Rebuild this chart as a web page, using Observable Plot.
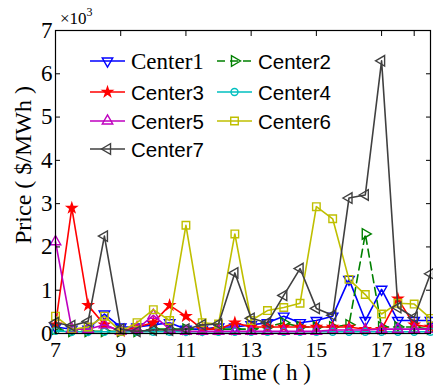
<!DOCTYPE html>
<html>
<head>
<meta charset="utf-8">
<script src="https://cdn.jsdelivr.net/npm/d3@7"></script>
<script src="https://cdn.jsdelivr.net/npm/@observablehq/plot@0.6"></script>
<style>
  html, body { margin: 0; padding: 0; background: #fff; }
  #chart { width: 433px; height: 389px; }
</style>
</head>
<body>
<div id="chart"></div>
<script>
// Time (h), half-hour steps
const times = [7, 7.5, 8, 8.5, 9, 9.5, 10, 10.5, 11, 11.5, 12, 12.5, 13, 13.5, 14, 14.5, 15, 15.5, 16, 16.5, 17, 17.5, 18, 18.5];

// Price ($/MWh) per center
const center1 = [150, 100, 100, 450, 150, 150, 200, 250, 100, 100, 150, 150, 200, 250, 400, 250, 300, 400, 1250, 300, 1020, 300, 300, 300];
const center2 = [100, 50, 50, 50, 50, 50, 100, 100, 100, 100, 100, 100, 100, 150, 250, 150, 150, 150, 200, 2300, 150, 150, 150, 100];
const center3 = [200, 2900, 650, 200, 50, 150, 250, 650, 400, 100, 100, 250, 150, 150, 150, 150, 150, 150, 150, 100, 100, 800, 200, 150];
const center4 = [60, 40, 40, 40, 40, 40, 40, 40, 40, 40, 40, 40, 40, 40, 40, 40, 40, 40, 40, 40, 40, 40, 40, 40];
const center5 = [2120, 100, 100, 200, 50, 100, 420, 100, 50, 50, 50, 50, 50, 50, 50, 50, 50, 80, 80, 80, 100, 100, 100, 100];
const center6 = [400, 100, 150, 400, 50, 250, 550, 300, 2500, 250, 220, 2300, 300, 530, 600, 700, 2930, 2650, 1250, 900, 450, 700, 680, 350];
const center7 = [250, 180, 280, 2250, 100, 50, 80, 80, 100, 200, 220, 1400, 350, 250, 880, 1500, 580, 420, 3130, 3200, 6300, 600, 370, 1380];

const seriesNames = ["Center1", "Center2", "Center3", "Center4", "Center5", "Center6", "Center7"];
const seriesValues = [center1, center2, center3, center4, center5, center6, center7];

const xTicks = [7, 9, 11, 13, 15, 17, 18];
const yTicks = [0, 1000, 2000, 3000, 4000, 5000, 6000, 7000];

// styles (not data)
const styles = {
  Center1: {color: "#0000ff", symbol: "triangle2", rotate: 180, fill: "none", dash: null, r: 5},
  Center2: {color: "#008000", symbol: "triangle2", rotate: 90, fill: "none", dash: "8,5", r: 5},
  Center3: {color: "#ff0000", symbol: "star", rotate: 0, fill: "#ff0000", dash: null, r: 3},
  Center4: {color: "#00bfbf", symbol: "circle", rotate: 0, fill: "none", dash: null, r: 3.5},
  Center5: {color: "#bf00bf", symbol: "triangle2", rotate: 0, fill: "none", dash: null, r: 5},
  Center6: {color: "#bfbf00", symbol: "square2", rotate: 0, fill: "none", dash: null, r: 4.8},
  Center7: {color: "#404040", symbol: "triangle2", rotate: -90, fill: "none", dash: null, r: 5}
};

const data = seriesNames.map((name, i) => times.map((t, j) => ({series: name, t, v: seriesValues[i][j]})));

const serif = "'Liberation Serif', 'Times New Roman', serif";
const sans = "'Liberation Sans', Arial, sans-serif";

const marks = [];
data.forEach((rows, i) => {
  const s = styles[seriesNames[i]];
  marks.push(Plot.line(rows, {x: "t", y: "v", stroke: s.color, strokeWidth: 1.6, strokeDasharray: s.dash}));
  marks.push(Plot.dot(rows, {x: "t", y: "v", stroke: s.color, fill: s.fill, symbol: s.symbol, rotate: s.rotate, r: s.r, strokeWidth: 1.4}));
});

const chart = Plot.plot({
  width: 433,
  height: 389,
  marginLeft: 55,
  marginRight: 3,
  marginTop: 30,
  marginBottom: 56,
  style: {fontFamily: serif, background: "#fff", overflow: "visible"},
  x: {domain: [7, 18.5], label: null},
  y: {domain: [0, 7000], label: null},
  marks: [
    ...marks,
    Plot.frame({stroke: "black", strokeWidth: 1.2}),
    // inward ticks
    Plot.axisX(xTicks, {anchor: "bottom", tickSize: -5, text: null}),
    Plot.axisX(xTicks, {anchor: "top", tickSize: -5, text: null}),
    Plot.axisY(yTicks, {anchor: "left", tickSize: -5, text: null}),
    Plot.axisY(yTicks, {anchor: "right", tickSize: -5, text: null}),
    // labels
    Plot.axisX(xTicks, {anchor: "bottom", tickSize: 0, tickPadding: 8, fontSize: 22, fill: "black", label: null}),
    Plot.axisY(yTicks, {anchor: "left", tickSize: 0, tickPadding: 3, fontSize: 23, fill: "black", tickFormat: d => String(d / 1000), label: null})
  ]
});

document.getElementById("chart").appendChild(chart);

const svg = d3.select(chart);

// axis titles
svg.append("text")
  .attr("x", 265).attr("y", 380)
  .attr("text-anchor", "middle")
  .attr("font-family", serif).attr("font-size", 23)
  .attr("fill", "black")
  .text("Time ( h )");

svg.append("text")
  .attr("transform", "translate(31,165) rotate(-90)")
  .attr("text-anchor", "middle")
  .attr("font-family", serif).attr("font-size", 24)
  .attr("fill", "black")
  .text("Price ( $/MWh )");

const mult = svg.append("text")
  .attr("x", 60).attr("y", 24)
  .attr("text-anchor", "start")
  .attr("font-family", serif).attr("font-size", 17)
  .attr("fill", "black");
mult.append("tspan").text("×10");
mult.append("tspan").attr("dy", -8).attr("font-size", 12).text("3");

// legend
const legendItems = [
  {name: "Center1", col: 0, row: 0},
  {name: "Center2", col: 1, row: 0},
  {name: "Center3", col: 0, row: 1},
  {name: "Center4", col: 1, row: 1},
  {name: "Center5", col: 0, row: 2},
  {name: "Center6", col: 1, row: 2},
  {name: "Center7", col: 0, row: 3}
];
const colX = [90, 217];
const rowY = [61, 92, 121, 149];
const symbolMap = {triangle2: d3.symbolTriangle2, star: d3.symbolStar, circle: d3.symbolCircle, square2: d3.symbolSquare2};
const lg = svg.append("g");
legendItems.forEach(it => {
  const s = styles[it.name];
  const x0 = colX[it.col], y0 = rowY[it.row];
  lg.append("line")
    .attr("x1", x0).attr("x2", x0 + 35).attr("y1", y0).attr("y2", y0)
    .attr("stroke", s.color).attr("stroke-width", 1.6)
    .attr("stroke-dasharray", s.dash);
  lg.append("path")
    .attr("d", d3.symbol(symbolMap[s.symbol], Math.PI * s.r * s.r)())
    .attr("transform", `translate(${x0 + 17.5},${y0}) rotate(${s.rotate})`)
    .attr("stroke", s.color).attr("stroke-width", 1.4)
    .attr("fill", s.fill);
  lg.append("text")
    .attr("x", x0 + 41).attr("y", y0 + 8)
    .attr("text-anchor", "start")
    .attr("font-family", it.name === "Center1" ? serif : sans)
    .attr("font-size", it.name === "Center1" ? 23 : 20.5)
    .attr("fill", "black")
    .text(it.name);
});
</script>
</body>
</html>
